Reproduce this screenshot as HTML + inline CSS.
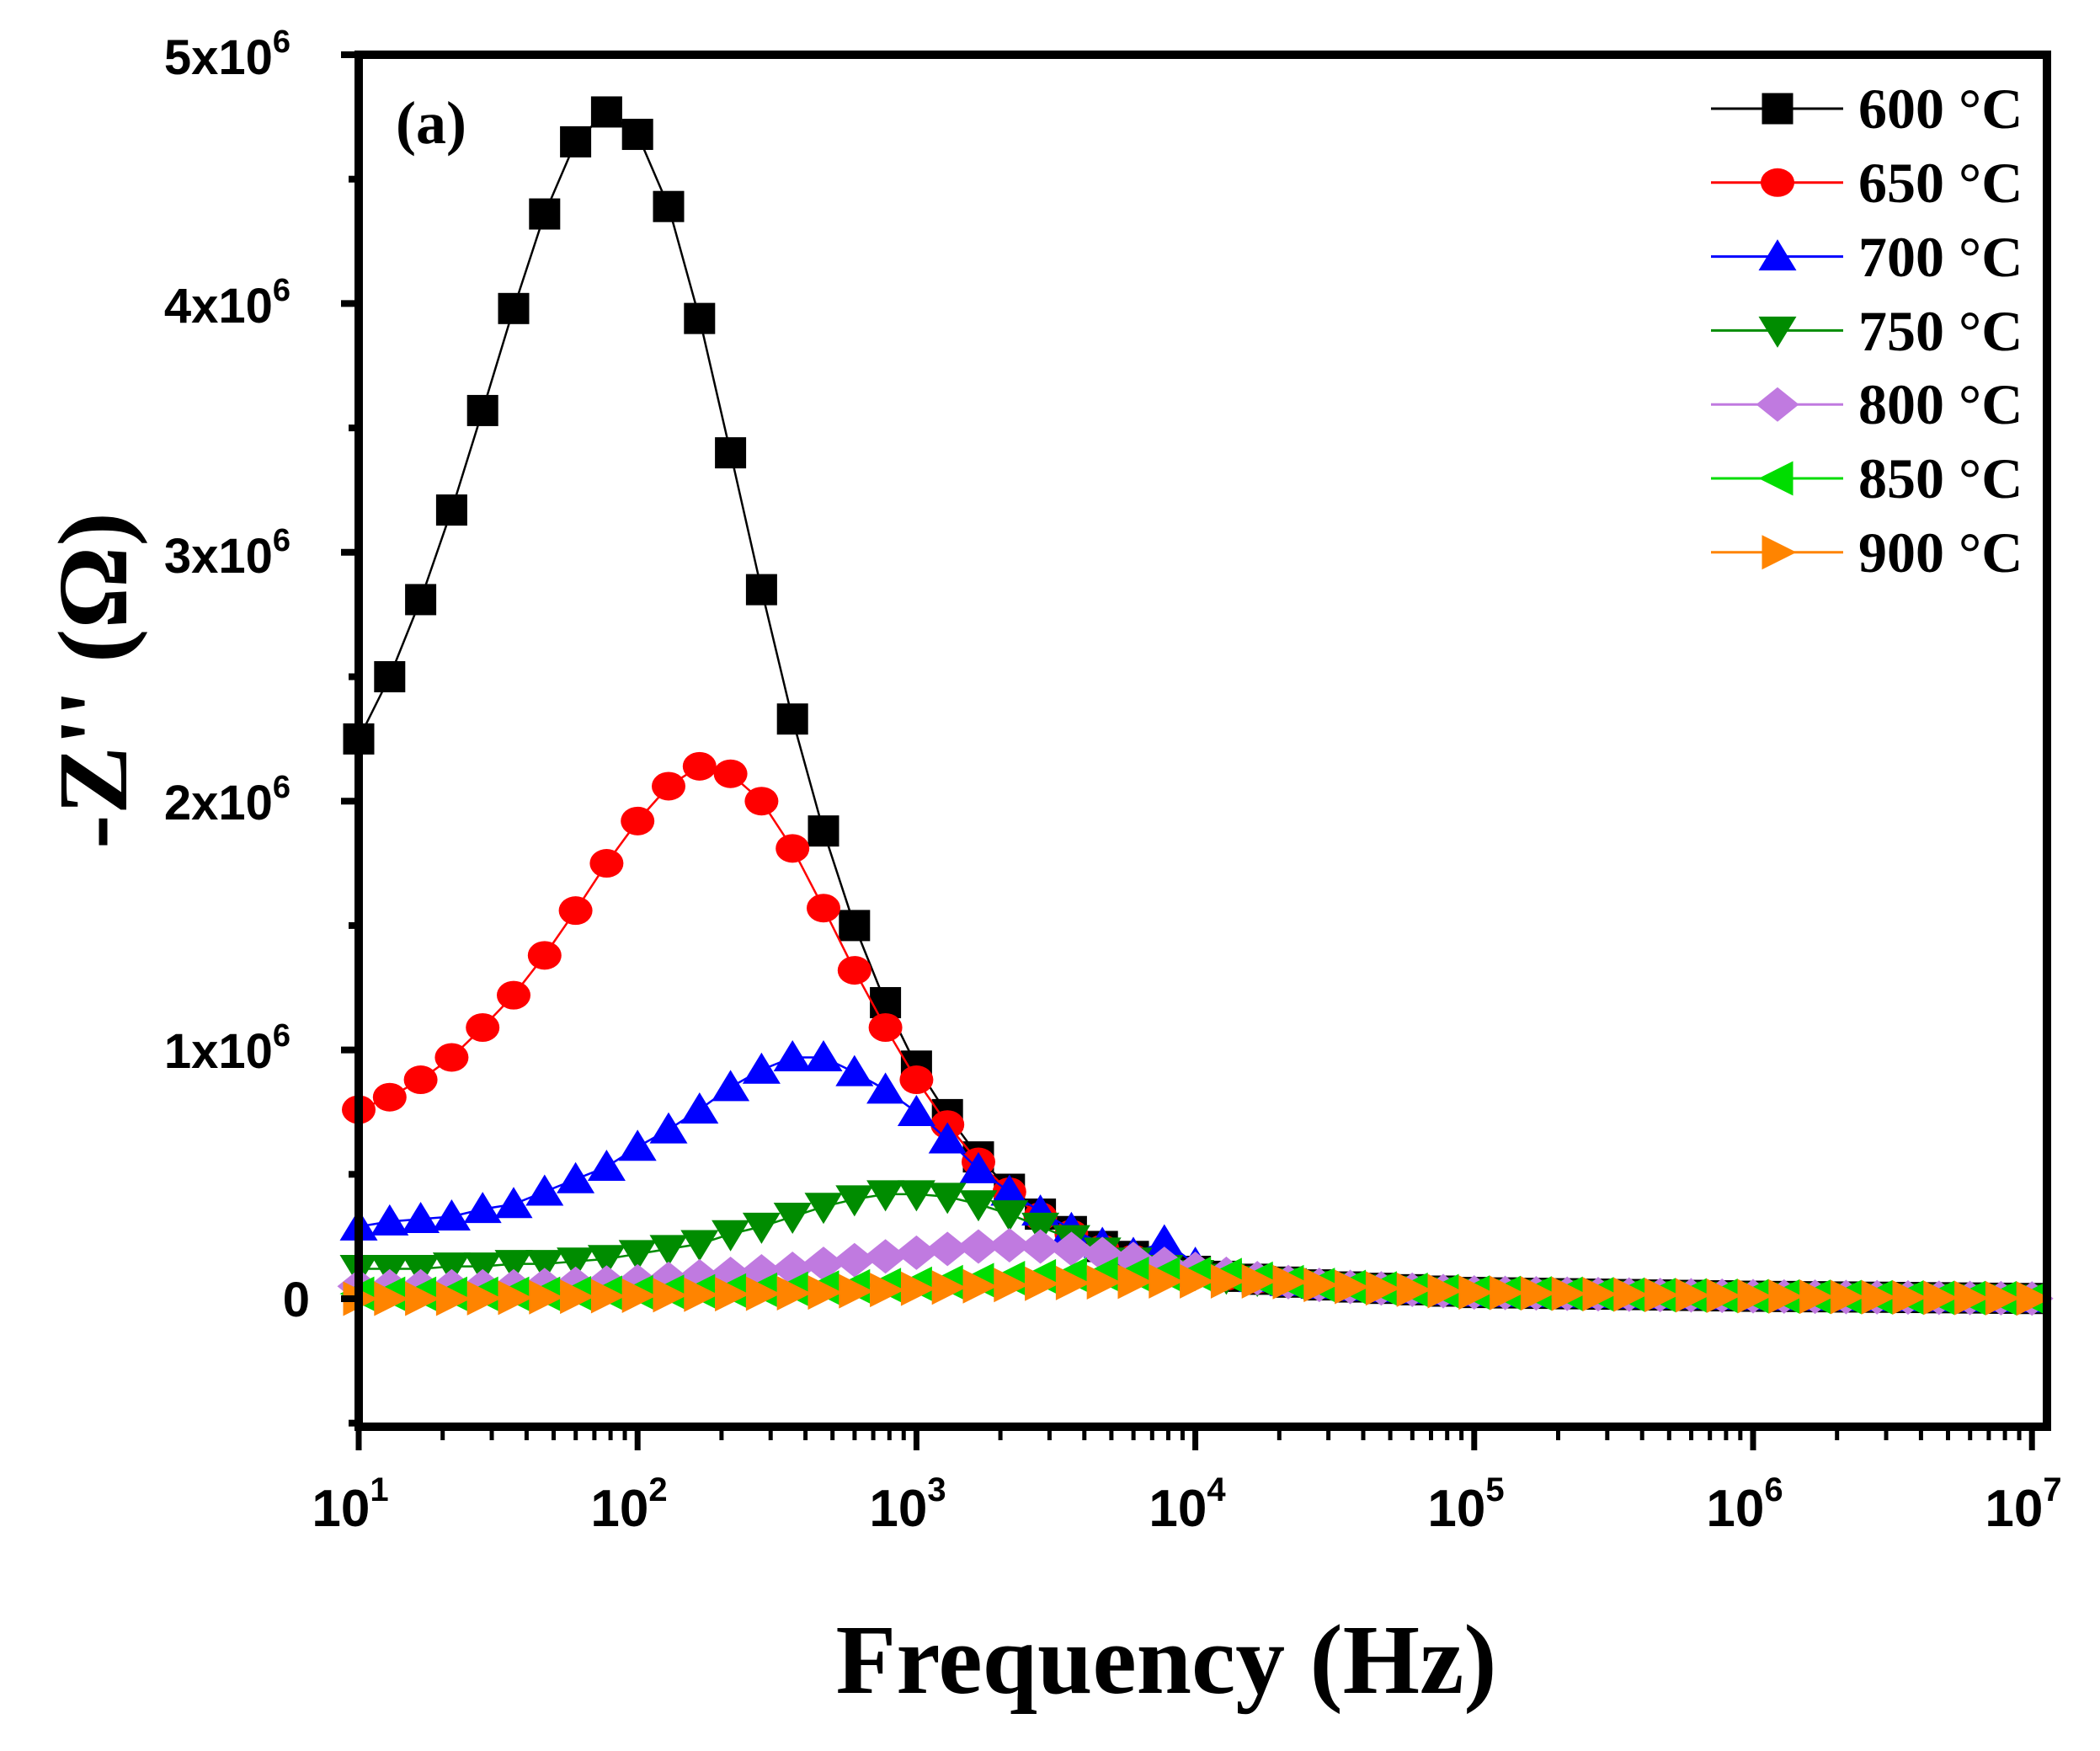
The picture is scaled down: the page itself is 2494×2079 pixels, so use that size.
<!DOCTYPE html>
<html><head><meta charset="utf-8"><style>
html,body{margin:0;padding:0;background:#fff;}
svg{display:block;}
</style></head><body>
<svg id="s" width="2494" height="2079" viewBox="0 0 2494 2079" xmlns="http://www.w3.org/2000/svg">
<defs><clipPath id="cp"><rect x="380" y="60" width="2062" height="1640"/></clipPath></defs>
<rect width="2494" height="2079" fill="#fff"/>
<g id="data" clip-path="url(#cp)"></g>
<rect x="426" y="65" width="2005" height="1629" fill="none" stroke="#000" stroke-width="10"/>
<g id="ticks" stroke="#000"></g>
<g font-family="Liberation Sans, Arial, sans-serif" font-weight="bold" font-size="58" text-anchor="end">
<text x="345" y="88">5x10<tspan font-size="38" dy="-26">6</tspan></text>
<text x="345" y="383">4x10<tspan font-size="38" dy="-26">6</tspan></text>
<text x="345" y="680">3x10<tspan font-size="38" dy="-26">6</tspan></text>
<text x="345" y="973">2x10<tspan font-size="38" dy="-26">6</tspan></text>
<text x="345" y="1268">1x10<tspan font-size="38" dy="-26">6</tspan></text>
<text x="368" y="1563">0</text>
</g>
<g font-family="Liberation Sans, Arial, sans-serif" font-weight="bold" font-size="62" text-anchor="middle">
<text x="416" y="1812">10<tspan font-size="40" dy="-30">1</tspan></text>
<text x="747" y="1812">10<tspan font-size="40" dy="-30">2</tspan></text>
<text x="1078" y="1812">10<tspan font-size="40" dy="-30">3</tspan></text>
<text x="1410" y="1812">10<tspan font-size="40" dy="-30">4</tspan></text>
<text x="1741" y="1812">10<tspan font-size="40" dy="-30">5</tspan></text>
<text x="2072" y="1812">10<tspan font-size="40" dy="-30">6</tspan></text>
<text x="2403" y="1812">10<tspan font-size="40" dy="-30">7</tspan></text>
</g>
<text x="1385" y="2010" font-family="Liberation Serif, Times New Roman, serif" font-weight="bold" font-size="118" text-anchor="middle" textLength="785" lengthAdjust="spacingAndGlyphs">Frequency (Hz)</text>
<text transform="translate(150,808) rotate(-90)" font-family="Liberation Serif, Times New Roman, serif" font-weight="bold" font-size="118" text-anchor="middle" textLength="400" lengthAdjust="spacingAndGlyphs">-Z'' (Ω)</text>
<text x="470" y="170" font-family="Liberation Serif, Times New Roman, serif" font-weight="bold" font-size="72">(a)</text>
<g id="legend" font-family="Liberation Serif, Times New Roman, serif" font-weight="bold" font-size="68">
<text x="2207" y="152">600 °C</text>
<text x="2207" y="240">650 °C</text>
<text x="2207" y="328">700 °C</text>
<text x="2207" y="416">750 °C</text>
<text x="2207" y="503">800 °C</text>
<text x="2207" y="591">850 °C</text>
<text x="2207" y="679">900 °C</text>
</g>
</svg>
<script>
var NS="http://www.w3.org/2000/svg";
function el(p,n,a){var e=document.createElementNS(NS,n);for(var k in a)e.setAttribute(k,a[k]);p.appendChild(e);return e;}
var X0=426,DX=331.2,Y0=1542,DY=295.4;
function px(f){return X0+(Math.log10(f)-1)*DX;}
function py(v){return Y0-v*DY;}
var tk=document.getElementById('ticks');
for(var i=-0.5;i<=5.01;i+=0.5){var y=py(i);var maj=Math.abs(i-Math.round(i))<0.01;
 el(tk,'line',{x1:maj?405:414,x2:426,y1:y,y2:y,'stroke-width':8});}
for(var d=1;d<=7;d++){for(var m=1;m<10;m++){if(d==7&&m>1)break;var x=px(m*Math.pow(10,d));
 el(tk,'line',{x1:x,x2:x,y1:1694,y2:m==1?1722:1710,'stroke-width':m==1?7:5});}}
var tail=[[4.3,0.07],[4.5,0.05],[4.7,0.04],[5,0.025],[6,0.01],[7.1,0.0]];
function mk(arr,startTail){var o=[];for(var k=0;k<arr.length;k++)o.push([1+k/9,arr[k]]);return o.concat(tail.filter(function(t){return t[0]>o[o.length-1][0]+0.05;}));}
var series=[
 {c:'#000000',m:'sq',d:mk([2.25,2.5,2.81,3.17,3.57,3.98,4.36,4.65,4.77,4.68,4.39,3.94,3.40,2.85,2.33,1.88,1.50,1.19,0.935,0.74,0.57,0.44,0.34,0.27,0.21,0.17,0.13,0.11,0.09])},
 {c:'#ff0000',m:'ci',d:mk([0.76,0.81,0.88,0.97,1.09,1.22,1.38,1.56,1.75,1.92,2.06,2.14,2.11,2.0,1.81,1.57,1.32,1.09,0.88,0.70,0.55,0.43,0.33,0.26,0.2,0.16,0.13,0.11,0.09])},
 {c:'#0000ff',m:'up',d:mk([0.29,0.31,0.32,0.33,0.36,0.38,0.43,0.48,0.53,0.61,0.68,0.76,0.85,0.92,0.97,0.97,0.91,0.84,0.75,0.64,0.52,0.43,0.35,0.28,0.22,0.18,0.23,0.14,0.10])},
 {c:'#008c00',m:'dn',d:mk([0.12,0.12,0.12,0.13,0.13,0.14,0.14,0.15,0.16,0.18,0.2,0.22,0.26,0.29,0.33,0.37,0.40,0.42,0.42,0.41,0.38,0.34,0.29,0.24,0.19,0.15,0.12,0.10,0.085])},
 {c:'#c07ae0',m:'di',d:mk([0.05,0.05,0.05,0.05,0.05,0.05,0.055,0.06,0.065,0.07,0.08,0.09,0.1,0.11,0.12,0.14,0.155,0.17,0.185,0.2,0.21,0.215,0.21,0.2,0.18,0.16,0.14,0.12,0.10])},
 {c:'#00dd00',m:'lt',d:mk([0.02,0.02,0.02,0.02,0.02,0.02,0.02,0.022,0.024,0.026,0.028,0.03,0.033,0.036,0.04,0.045,0.05,0.055,0.06,0.067,0.075,0.083,0.09,0.097,0.1,0.1,0.1,0.1,0.095])},
 {c:'#ff8400',m:'rt',d:mk([0.0,0.0,0.0,0.0,0.002,0.004,0.006,0.008,0.01,0.012,0.014,0.016,0.018,0.02,0.022,0.025,0.03,0.035,0.04,0.045,0.05,0.055,0.06,0.063,0.066,0.068,0.07,0.07,0.07])}];
function interp(d,l){for(var i=0;i<d.length-1;i++){if(l<=d[i+1][0]){var t=(l-d[i][0])/(d[i+1][0]-d[i][0]);return d[i][1]+t*(d[i+1][1]-d[i][1]);}}return d[d.length-1][1];}
function marker(g,t,x,y,c){var s=18.5;
 if(t=='sq')el(g,'rect',{x:x-s,y:y-s,width:2*s,height:2*s,fill:c});
 else if(t=='ci')el(g,'ellipse',{cx:x,cy:y,rx:20,ry:17,fill:c});
 else if(t=='up')el(g,'polygon',{points:(x)+','+(y-s-2)+' '+(x+s+4)+','+(y+s-2)+' '+(x-s-4)+','+(y+s-2),fill:c});
 else if(t=='dn')el(g,'polygon',{points:(x)+','+(y+s+2)+' '+(x+s+4)+','+(y-s+2)+' '+(x-s-4)+','+(y-s+2),fill:c});
 else if(t=='di')el(g,'polygon',{points:x+','+(y-s-2)+' '+(x+s+7)+','+y+' '+x+','+(y+s+2)+' '+(x-s-7)+','+y,fill:c});
 else if(t=='lt')el(g,'polygon',{points:(x-s-4)+','+y+' '+(x+s)+','+(y-s-2)+' '+(x+s)+','+(y+s+2),fill:c});
 else el(g,'polygon',{points:(x+s+4)+','+y+' '+(x-s)+','+(y-s-2)+' '+(x-s)+','+(y+s+2),fill:c});}
var dg=document.getElementById('data');
series.forEach(function(S){var pts=[];
 for(var k=0;k<=55;k++){var l=1+k/9;if(l>7.06)break;pts.push([X0+(l-1)*DX,py(interp(S.d,l))]);}
 el(dg,'polyline',{points:pts.map(function(p){return p.join(',')}).join(' '),fill:'none',stroke:S.c,'stroke-width':2.5});
 pts.forEach(function(p){marker(dg,S.m,p[0],p[1],S.c);});});
var lg=document.getElementById('legend');
series.forEach(function(S,i){var y=129+i*87.8;
 el(lg,'line',{x1:2032,x2:2189,y1:y,y2:y,stroke:S.c,'stroke-width':3});
 marker(lg,S.m,2111,y,S.c);});
</script>
</body></html>
